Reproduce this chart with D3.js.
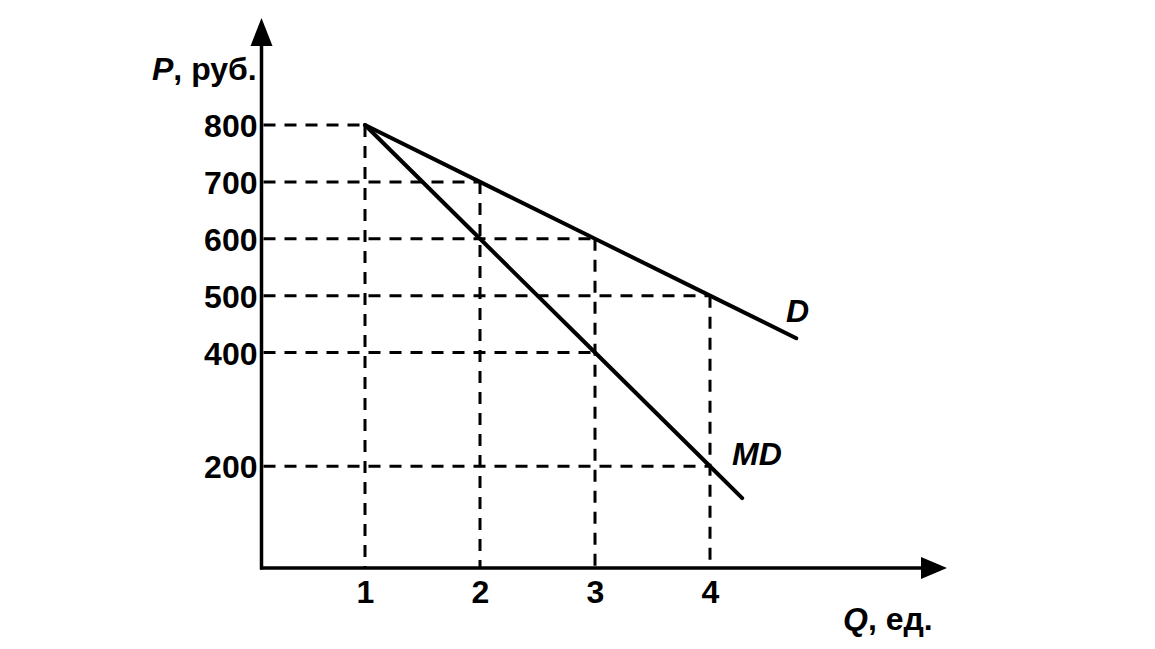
<!DOCTYPE html>
<html><head><meta charset="utf-8">
<script src="https://cdn.jsdelivr.net/npm/d3@7"></script>
<style>body{margin:0;background:#fff}svg{display:block}</style>
</head><body>
<svg id="c" width="1155" height="649"></svg>
<script>
const quantities = [1, 2, 3, 4];
const priceTicks = [200, 400, 500, 600, 700, 800];
const demandD = [[1, 800], [2, 700], [3, 600], [4, 500], [4.75, 425]];
const demandMD = [[1, 800], [2, 600], [3, 400], [4, 200], [4.28, 144]];
// dashed guides: [q, p] from axis
const hGuides = [[1, 800], [2, 700], [3, 600], [4, 500], [3, 400], [4, 200]];
const vGuides = [[1, 800], [2, 700], [3, 600], [4, 500]];

const svg = d3.select("#c");
const x = d3.scaleLinear().domain([0, 4]).range([250, 710]);
const y = d3.scaleLinear().domain([0, 800]).range([580, 125]);
const x0 = x(0.1), y0 = y(21);
const font = "'Liberation Sans', Arial, sans-serif";

// guides
const g = svg.append("g").attr("stroke", "#000").attr("stroke-width", 3).attr("stroke-dasharray", "12,9");
hGuides.forEach(([q, p]) => g.append("line").attr("x1", x0 + 2).attr("x2", x(q)).attr("y1", y(p)).attr("y2", y(p)));
vGuides.forEach(([q, p]) => g.append("line").attr("x1", x(q)).attr("x2", x(q)).attr("y1", y(p)).attr("y2", y0));

// curves
const line = d3.line().x(d => x(d[0])).y(d => y(d[1]));
[demandD, demandMD].forEach(d => svg.append("path").attr("d", line(d)).attr("fill", "none")
  .attr("stroke", "#000").attr("stroke-width", 4).attr("stroke-linecap", "round"));

// axes lines with arrows
svg.append("line").attr("x1", x0).attr("x2", x0).attr("y1", y0 + 1.5).attr("y2", 40).attr("stroke", "#000").attr("stroke-width", 3.5);
svg.append("line").attr("x1", x0 - 1.5).attr("x2", 930).attr("y1", y0).attr("y2", y0).attr("stroke", "#000").attr("stroke-width", 3.5);
svg.append("path").attr("d", `M${x0},18 L${x0 - 11},46 L${x0 + 11},46 Z`).attr("fill", "#000");
svg.append("path").attr("d", `M947,${y0} L921,${y0 - 11} L921,${y0 + 11} Z`).attr("fill", "#000");

// tick labels via d3 axes
const ya = svg.append("g").attr("transform", `translate(${x0 - 4},0)`)
  .call(d3.axisLeft(y).tickValues(priceTicks).tickFormat(d3.format("d")).tickSize(0).tickPadding(0));
ya.select(".domain").remove();
ya.selectAll("text").attr("font-family", font).attr("font-size", 32).attr("font-weight", "bold").attr("dy", "0.36em");

const xa = svg.append("g").attr("transform", `translate(0,${y0})`)
  .call(d3.axisBottom(x).tickValues(quantities).tickFormat(d3.format("d")).tickSize(0).tickPadding(12));
xa.select(".domain").remove();
xa.selectAll("text").attr("font-family", font).attr("font-size", 32).attr("font-weight", "bold");

// axis titles & curve labels
const t1 = svg.append("text").attr("x", 152).attr("y", 80).attr("font-family", font).attr("font-size", 32).attr("font-weight", "bold");
t1.append("tspan").attr("font-style", "italic").text("P");
t1.append("tspan").text(", руб.");
const t2 = svg.append("text").attr("x", 843).attr("y", 630).attr("font-family", font).attr("font-size", 32).attr("font-weight", "bold");
t2.append("tspan").attr("font-style", "italic").text("Q");
t2.append("tspan").text(", ед.");
svg.append("text").attr("x", 786).attr("y", 322).attr("font-family", font).attr("font-size", 32).attr("font-weight", "bold").attr("font-style", "italic").text("D");
svg.append("text").attr("x", 732).attr("y", 465).attr("font-family", font).attr("font-size", 32).attr("font-weight", "bold").attr("font-style", "italic").text("MD");
</script>
</body></html>
